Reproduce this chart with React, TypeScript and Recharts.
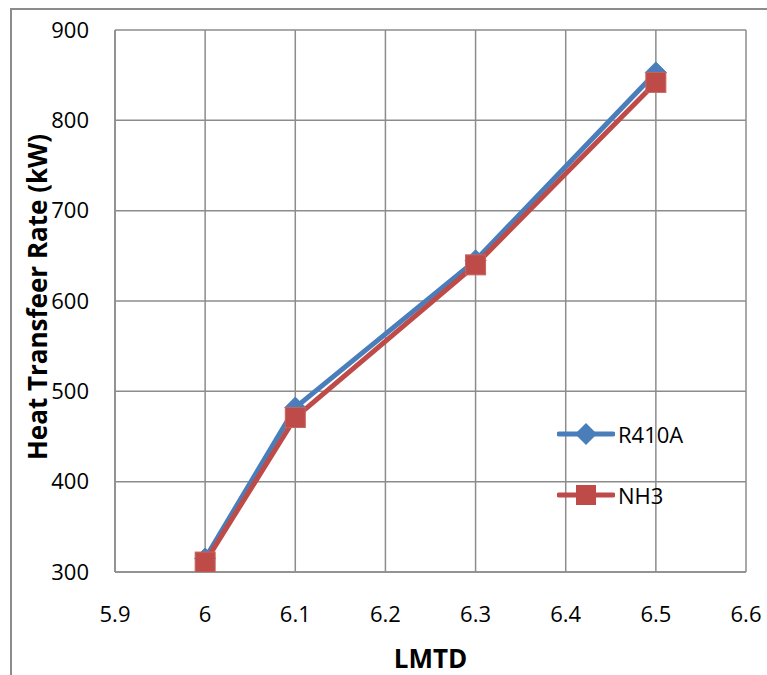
import React from 'react';
import { LineChart, Line, XAxis, YAxis, CartesianGrid, Legend } from 'recharts';

const lmtd = [6, 6.1, 6.3, 6.5];
const r410a = [315, 482, 645, 853];
const nh3 = [311, 471, 640, 842];
const xTicks = [5.9, 6, 6.1, 6.2, 6.3, 6.4, 6.5, 6.6];
const yTicks = [300, 400, 500, 600, 700, 800, 900];

const data = lmtd.map((x, i) => ({ x, R410A: r410a[i], NH3: nh3[i] }));

const BLUE = '#4a7ebb';
const RED = '#be4b48';
const GRID = '#8c8c8c';
const FONT = '"Open Sans", sans-serif';

const Diamond = (props: any) => {
  const { cx, cy } = props;
  if (cx == null || cy == null) return null;
  const h = 10.5;
  return (
    <polygon
      points={`${cx},${cy - h} ${cx + h},${cy} ${cx},${cy + h} ${cx - h},${cy}`}
      fill={BLUE}
      stroke={BLUE}
      strokeWidth={1}
    />
  );
};

const Square = (props: any) => {
  const { cx, cy } = props;
  if (cx == null || cy == null) return null;
  const h = 10;
  return <rect x={cx - h} y={cy - h} width={2 * h} height={2 * h} fill={RED} stroke="#c86460" strokeWidth={1} />;
};

const LegendContent = () => {
  const rows = [
    { name: 'R410A', color: BLUE, marker: 'diamond' },
    { name: 'NH3', color: RED, marker: 'square' },
  ];
  return (
    <div style={{ fontFamily: FONT, fontSize: 22, color: '#000' }}>
      {rows.map((r) => (
        <div key={r.name} style={{ display: 'flex', alignItems: 'center', height: 61 }}>
          <svg width={58} height={24} style={{ display: 'block' }}>
            <line x1={2} y1={12} x2={56} y2={12} stroke={r.color} strokeWidth={5} strokeLinecap="round" />
            {r.marker === 'diamond' ? (
              <polygon points="29,1 40,12 29,23 18,12" fill={r.color} />
            ) : (
              <rect x={19} y={2} width={20} height={20} fill={r.color} />
            )}
          </svg>
          <span style={{ marginLeft: 3, lineHeight: '24px' }}>{r.name}</span>
        </div>
      ))}
    </div>
  );
};

const YLabel = () => (
  <text
    x={37}
    y={297}
    transform="rotate(-90 37 297)"
    textAnchor="middle"
    dominantBaseline="central"
    fontFamily={FONT}
    fontSize={26}
    fontWeight="bold"
    fill="#000"
  >
    Heat Transfeer Rate (kW)
  </text>
);

export default function App() {
  return (
    <div style={{ position: 'fixed', left: 0, top: 0, width: 767, height: 675, overflow: 'hidden', background: '#fff' }}>
      <div
        style={{
          position: 'absolute',
          left: 10,
          top: 8,
          width: 757,
          height: 667,
          borderLeft: '2px solid #8c8c8c',
          borderTop: '2px solid #8c8c8c',
          boxSizing: 'border-box',
        }}
      />
      <div style={{ position: 'absolute', left: 0, top: 0 }}>
        <LineChart width={767} height={675} data={data} margin={{ top: 30, right: 21, bottom: 0, left: 0 }}>
          <CartesianGrid stroke={GRID} strokeWidth={1.5} horizontal vertical />
          <XAxis
            dataKey="x"
            type="number"
            domain={[5.9, 6.6]}
            ticks={xTicks}
            tickFormatter={(v: number) => String(Math.round(v * 10) / 10)}
            allowDataOverflow
            height={103}
            tickLine={false}
            tickSize={0}
            tickMargin={34}
            axisLine={{ stroke: GRID, strokeWidth: 1.5 }}
            tick={{ fontFamily: FONT, fontSize: 22, fill: '#000' }}
            label={{
              value: 'LMTD',
              position: 'insideBottom',
              offset: 7,
              style: { fontFamily: FONT, fontSize: 26, fontWeight: 'bold', fill: '#000' },
            }}
          />
          <YAxis
            type="number"
            domain={[300, 900]}
            ticks={yTicks}
            allowDataOverflow
            width={115}
            tickLine={false}
            tickSize={0}
            tickMargin={26}
            axisLine={{ stroke: GRID, strokeWidth: 1.5 }}
            tick={{ fontFamily: FONT, fontSize: 22, fill: '#000' }}
            label={<YLabel />}
          />
          <Legend
            layout="vertical"
            align="center"
            verticalAlign="middle"
            content={<LegendContent />}
            wrapperStyle={{ left: 557, top: 403, width: 'auto', height: 'auto' }}
          />
          <Line
            type="linear"
            dataKey="R410A"
            stroke={BLUE}
            strokeWidth={5}
            dot={<Diamond />}
            activeDot={false}
            isAnimationActive={false}
          />
          <Line
            type="linear"
            dataKey="NH3"
            stroke={RED}
            strokeWidth={5}
            dot={<Square />}
            activeDot={false}
            isAnimationActive={false}
          />
        </LineChart>
      </div>
    </div>
  );
}
